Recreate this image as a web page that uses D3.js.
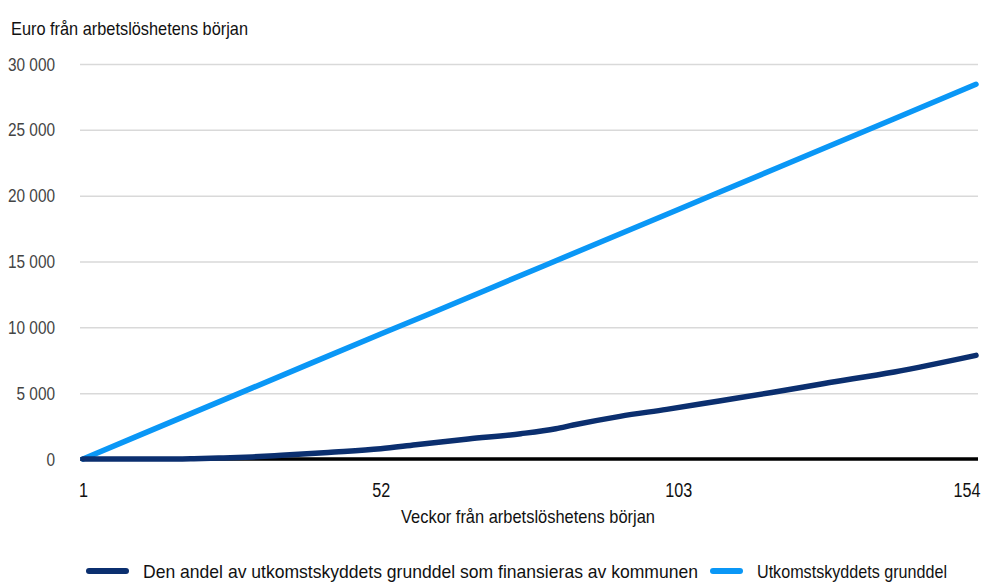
<!DOCTYPE html>
<html>
<head>
<meta charset="utf-8">
<script src="https://cdn.jsdelivr.net/npm/d3@7"></script>
<style>
  html, body { margin: 0; padding: 0; background: #fff; }
  svg { display: block; }
  text { font-family: "Liberation Sans", Arial, sans-serif; }
</style>
</head>
<body>
<svg id="chart" width="983" height="583"></svg>
<script>
// Cumulative euros since the start of unemployment, by week
const weeks = [1, 10, 20, 30, 40, 52, 60, 70, 80, 90, 103, 110, 120, 130, 140, 154];
const basicAllowance = [0, 1680, 3540, 5400, 7260, 9490, 10960, 12820, 14680, 16540, 18950, 20260, 22120, 23980, 25840, 28460];

const muniWeeks = [1, 10, 17, 20, 25, 30, 35, 43, 52, 58, 67, 76, 82, 85, 93, 101, 110, 119, 128, 140, 154];
const municipalShare = [0, 0, 0, 20, 80, 160, 280, 500, 770, 1080, 1520, 1920, 2300, 2580, 3240, 3770, 4410, 5050, 5740, 6610, 7870];

const yTicks = [0, 5000, 10000, 15000, 20000, 25000, 30000];
const xTicks = [1, 52, 103, 154];

const seriesNames = ["Den andel av utkomstskyddets grunddel som finansieras av kommunen", "Utkomstskyddets grunddel"];
const seriesColors = ["#0b2f6f", "#0a97f6"];

const svg = d3.select("#chart");
const plot = { left: 83, right: 976, top: 64, bottom: 459 };
const narrow = 0.81;   // horizontal squeeze for tick labels (condensed look)

const x = d3.scaleLinear().domain([1, 154]).range([plot.left, plot.right]);
const y = d3.scaleLinear().domain([0, 30000]).range([plot.bottom, plot.top]);

const fmt = v => d3.format(",")(v).replace(/,/g, " ");

// condensed text helper: squeezes glyphs to a given length
function label(sel, str, px, py, len, anchor) {
  return sel.append("text")
    .attr("x", px).attr("y", py)
    .attr("font-size", 19).attr("fill", "#111")
    .attr("text-anchor", anchor || "start")
    .attr("textLength", len).attr("lengthAdjust", "spacingAndGlyphs")
    .text(str);
}

// y-axis title
label(svg, "Euro från arbetslöshetens början", 11, 35, 237);

// gridlines + y labels
const yPad = 25;
const yAxis = d3.axisLeft(y).tickValues(yTicks).tickFormat(fmt)
  .tickSize(-(plot.right - plot.left + 5)).tickPadding(0);
const gy = svg.append("g").attr("transform", `translate(${plot.left - 3},0)`).call(yAxis);
gy.select(".domain").remove();
gy.selectAll(".tick line").attr("stroke", "#d9d9d9").attr("stroke-width", 1.5);
gy.selectAll(".tick text")
  .attr("font-size", 19).attr("fill", "#444")
  .attr("font-family", "\"Liberation Sans\", Arial, sans-serif")
  .attr("x", -yPad / narrow)
  .attr("transform", `scale(${narrow},1)`);

// x axis labels
const xAxis = d3.axisBottom(x).tickValues(xTicks).tickSize(0).tickPadding(24);
const gx = svg.append("g").attr("transform", `translate(0,${plot.bottom})`).call(xAxis);
gx.select(".domain").remove();
gx.selectAll(".tick text")
  .attr("font-size", 20).attr("fill", "#111")
  .attr("font-family", "\"Liberation Sans\", Arial, sans-serif")
  .attr("transform", `scale(${narrow},1)`);
gx.selectAll(".tick").filter(d => d === 154).select("text")
  .attr("text-anchor", "end").attr("x", 4 / narrow);

label(svg, "Veckor från arbetslöshetens början", 528, 523, 254, "middle");

// zero baseline
svg.append("line")
  .attr("x1", plot.left - 3).attr("x2", plot.right + 2)
  .attr("y1", y(0)).attr("y2", y(0))
  .attr("stroke", "#000").attr("stroke-width", 3.5);

const line = d3.line().x(d => x(d[0])).y(d => y(d[1]));

svg.append("path")
  .datum(weeks.map((w, i) => [w, basicAllowance[i]]))
  .attr("d", line).attr("fill", "none")
  .attr("stroke", seriesColors[1]).attr("stroke-width", 5.5)
  .attr("stroke-linecap", "round").attr("stroke-linejoin", "round");

svg.append("path")
  .datum(muniWeeks.map((w, i) => [w, municipalShare[i]]))
  .attr("d", line.curve(d3.curveMonotoneX)).attr("fill", "none")
  .attr("stroke", seriesColors[0]).attr("stroke-width", 5.5)
  .attr("stroke-linecap", "round").attr("stroke-linejoin", "round");

// legend
const legendItems = [
  { name: seriesNames[0], color: seriesColors[0], x: 89, gap: 54, len: 555 },
  { name: seriesNames[1], color: seriesColors[1], x: 713, gap: 44, len: 190 }
];
const lg = svg.append("g").selectAll("g").data(legendItems).join("g")
  .attr("transform", d => `translate(${d.x},571)`);
lg.append("line").attr("x1", 0).attr("x2", d => d.gap - 17).attr("y1", 0).attr("y2", 0)
  .attr("stroke", d => d.color).attr("stroke-width", 6).attr("stroke-linecap", "round");
lg.each(function (d) { label(d3.select(this), d.name, d.gap, 7, d.len); });
</script>
</body>
</html>
